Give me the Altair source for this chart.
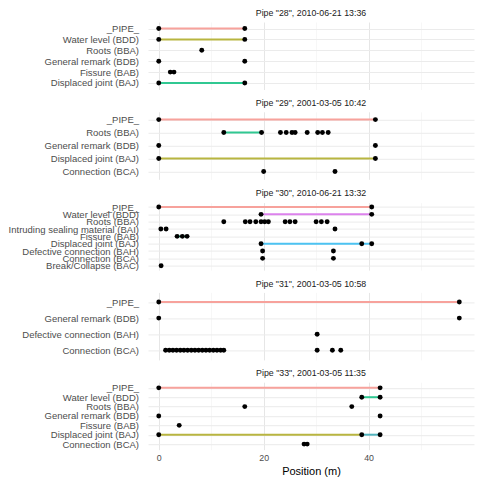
import altair as alt
import pandas as pd

FONT = "Liberation Sans"

TITLES = [
    'Pipe "28", 2010-06-21 13:36',
    'Pipe "29", 2001-03-05 10:42',
    'Pipe "30", 2010-06-21 13:32',
    'Pipe "31", 2001-03-05 10:58',
    'Pipe "33", 2001-03-05 11:35',
]

CATS = [
    ["_PIPE_", "Water level (BDD)", "Roots (BBA)", "General remark (BDB)", "Fissure (BAB)", "Displaced joint (BAJ)"],
    ["_PIPE_", "Roots (BBA)", "General remark (BDB)", "Displaced joint (BAJ)", "Connection (BCA)"],
    ["_PIPE_", "Water level (BDD)", "Roots (BBA)", "Intruding sealing material (BAI)", "Fissure (BAB)",
     "Displaced joint (BAJ)", "Defective connection (BAH)", "Connection (BCA)", "Break/Collapse (BAC)"],
    ["_PIPE_", "General remark (BDB)", "Defective connection (BAH)", "Connection (BCA)"],
    ["_PIPE_", "Water level (BDD)", "Roots (BBA)", "General remark (BDB)", "Fissure (BAB)",
     "Displaced joint (BAJ)", "Connection (BCA)"],
]

# observations: (category, position in m)
POINTS = [
    [("_PIPE_", 0), ("_PIPE_", 16.4), ("Water level (BDD)", 0), ("Water level (BDD)", 16.4),
     ("Roots (BBA)", 8.2), ("General remark (BDB)", 0), ("General remark (BDB)", 16.4),
     ("Fissure (BAB)", 2.2), ("Fissure (BAB)", 2.9),
     ("Displaced joint (BAJ)", 0), ("Displaced joint (BAJ)", 16.4)],
    [("_PIPE_", 0), ("_PIPE_", 41.3),
     ("Roots (BBA)", 12.4), ("Roots (BBA)", 19.6), ("Roots (BBA)", 23.2), ("Roots (BBA)", 24.3),
     ("Roots (BBA)", 25.4), ("Roots (BBA)", 26.0), ("Roots (BBA)", 28.3), ("Roots (BBA)", 30.3),
     ("Roots (BBA)", 31.2), ("Roots (BBA)", 32.3),
     ("General remark (BDB)", 0), ("General remark (BDB)", 41.3),
     ("Displaced joint (BAJ)", 0), ("Displaced joint (BAJ)", 41.3),
     ("Connection (BCA)", 20.0), ("Connection (BCA)", 33.6)],
    [("_PIPE_", 0), ("_PIPE_", 40.6), ("Water level (BDD)", 19.5), ("Water level (BDD)", 40.6),
     ("Roots (BBA)", 12.4), ("Roots (BBA)", 16.5), ("Roots (BBA)", 17.4), ("Roots (BBA)", 18.5),
     ("Roots (BBA)", 19.5), ("Roots (BBA)", 20.2), ("Roots (BBA)", 20.9), ("Roots (BBA)", 24.1),
     ("Roots (BBA)", 25.0), ("Roots (BBA)", 26.0), ("Roots (BBA)", 30.0), ("Roots (BBA)", 31.0),
     ("Roots (BBA)", 32.1),
     ("Intruding sealing material (BAI)", 0.4), ("Intruding sealing material (BAI)", 1.4),
     ("Intruding sealing material (BAI)", 33.6),
     ("Fissure (BAB)", 3.5), ("Fissure (BAB)", 4.5), ("Fissure (BAB)", 5.4),
     ("Displaced joint (BAJ)", 19.5), ("Displaced joint (BAJ)", 38.7), ("Displaced joint (BAJ)", 40.6),
     ("Defective connection (BAH)", 19.8), ("Defective connection (BAH)", 33.3),
     ("Connection (BCA)", 19.8), ("Connection (BCA)", 33.3),
     ("Break/Collapse (BAC)", 0.45)],
    [("_PIPE_", 0), ("_PIPE_", 57.3), ("General remark (BDB)", 0), ("General remark (BDB)", 57.3),
     ("Defective connection (BAH)", 30.2),
     ("Connection (BCA)", 1.3), ("Connection (BCA)", 2.0), ("Connection (BCA)", 2.7), ("Connection (BCA)", 3.4),
     ("Connection (BCA)", 4.1), ("Connection (BCA)", 4.8), ("Connection (BCA)", 5.5), ("Connection (BCA)", 6.2),
     ("Connection (BCA)", 6.9), ("Connection (BCA)", 7.6), ("Connection (BCA)", 8.3), ("Connection (BCA)", 9.0),
     ("Connection (BCA)", 9.7), ("Connection (BCA)", 10.4), ("Connection (BCA)", 11.1), ("Connection (BCA)", 11.8),
     ("Connection (BCA)", 12.4),
     ("Connection (BCA)", 30.2), ("Connection (BCA)", 33.1), ("Connection (BCA)", 34.7)],
    [("_PIPE_", 0), ("_PIPE_", 42.2), ("Water level (BDD)", 38.7), ("Water level (BDD)", 42.2),
     ("Roots (BBA)", 16.4), ("Roots (BBA)", 36.8), ("General remark (BDB)", 0), ("General remark (BDB)", 42.2),
     ("Fissure (BAB)", 3.9), ("Displaced joint (BAJ)", 0), ("Displaced joint (BAJ)", 38.7),
     ("Displaced joint (BAJ)", 42.2), ("Connection (BCA)", 27.7), ("Connection (BCA)", 28.3)],
]

# continuous defects: (category, start m, end m, group)
SEGMENTS = [
    [("_PIPE_", 0, 16.4, "1"), ("Water level (BDD)", 0, 16.4, "2"), ("Displaced joint (BAJ)", 0, 16.4, "3")],
    [("_PIPE_", 0, 41.3, "1"), ("Roots (BBA)", 12.4, 19.6, "3"), ("Displaced joint (BAJ)", 0, 41.3, "2")],
    [("_PIPE_", 0, 40.6, "1"), ("Water level (BDD)", 19.5, 40.6, "5"), ("Fissure (BAB)", 3.5, 5.4, "3"),
     ("Displaced joint (BAJ)", 19.5, 40.6, "4")],
    [("_PIPE_", 0, 57.3, "1")],
    [("_PIPE_", 0, 42.2, "1"), ("Water level (BDD)", 38.7, 42.2, "3"),
     ("Displaced joint (BAJ)", 0, 38.7, "2"), ("Displaced joint (BAJ)", 38.7, 42.2, "6")],
]

GROUPS = ["1", "2", "3", "4", "5", "6"]
GROUP_COLORS = ["#F7A29C", "#B8B540", "#30C892", "#4CC3F2", "#DC82EC", "#52B4BE"]

X_DOMAIN = [-2.05, 60.1]
X_TICKS = [0, 10, 20, 30, 40, 50]

grid_color = {"condition": {"test": "datum.value % 20 == 0", "value": "#E6E6E6"}, "value": "#F2F2F2"}
grid_width = {"condition": {"test": "datum.value % 20 == 0", "value": 1}, "value": 0.6}

panels = []
n = len(TITLES)
for i in range(n):
    last = i == n - 1
    pts = pd.DataFrame(POINTS[i], columns=["cat", "pos"])
    segs = pd.DataFrame(SEGMENTS[i], columns=["cat", "start", "end", "grp"])

    if last:
        xaxis = alt.Axis(values=X_TICKS, labelExpr="datum.value % 20 == 0 ? datum.label : ''",
                         ticks=False, domain=False, grid=True, gridColor=grid_color, gridWidth=grid_width,
                         labelFontSize=8.8, labelColor="#4D4D4D", labelFont=FONT, labelPadding=4,
                         title="Position (m)", titleFontSize=11, titleFont=FONT, titleFontWeight="normal",
                         titleColor="#000000", titlePadding=3)
    else:
        xaxis = alt.Axis(values=X_TICKS, labels=False, ticks=False, domain=False, grid=True,
                         gridColor=grid_color, gridWidth=grid_width, title=None)

    xscale = alt.Scale(domain=X_DOMAIN, nice=False, zero=False)
    yscale = alt.Scale(domain=CATS[i], type="point", padding=0.6)
    yaxis = alt.Axis(title=None, ticks=False, domain=False, grid=True, gridColor="#EBEBEB", gridWidth=1,
                     labelFontSize=9.5, labelColor="#4D4D4D", labelFont=FONT, labelPadding=9.5)

    seg_layer = alt.Chart(segs).mark_rule(strokeWidth=2).encode(
        x=alt.X("start:Q", scale=xscale, axis=xaxis),
        x2="end:Q",
        y=alt.Y("cat:N", scale=yscale, axis=yaxis, sort=CATS[i]),
        color=alt.Color("grp:N", scale=alt.Scale(domain=GROUPS, range=GROUP_COLORS), legend=None),
    )
    pt_layer = alt.Chart(pts).mark_circle(size=24, color="#000000", opacity=1).encode(
        x=alt.X("pos:Q", scale=xscale, axis=xaxis),
        y=alt.Y("cat:N", scale=yscale, axis=yaxis, sort=CATS[i]),
    )
    panel = alt.layer(seg_layer, pt_layer).properties(
        width=326, height=67.5,
        title=alt.TitleParams(text=TITLES[i], fontSize=8.8, font=FONT, fontWeight="normal",
                              color="#1A1A1A", anchor="middle", frame="group", offset=4),
    )
    panels.append(panel)

chart = alt.vconcat(*panels, spacing=8.8).properties(
    padding={"left": 8, "top": 9, "right": 6, "bottom": 4},
    background="white",
).configure_view(stroke=None)

chart.save("out.html", embed_options={"renderer": "svg", "actions": False})
